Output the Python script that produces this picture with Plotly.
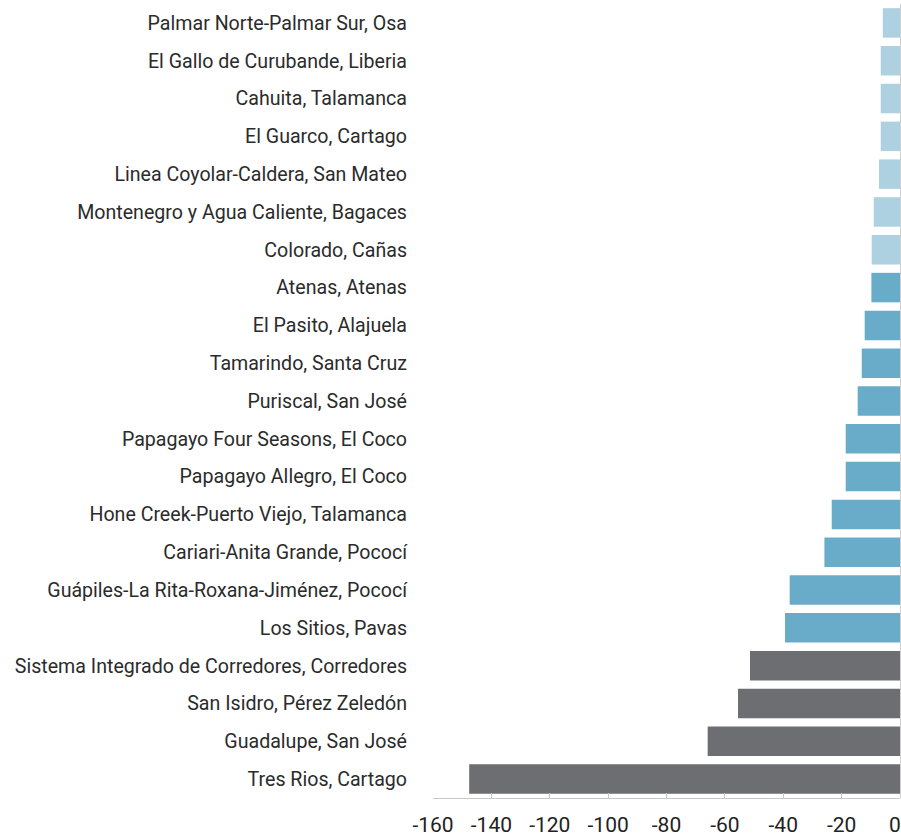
import plotly.graph_objects as go

categories = [
    "Palmar Norte-Palmar Sur, Osa",
    "El Gallo de Curubande, Liberia",
    "Cahuita, Talamanca",
    "El Guarco, Cartago",
    "Linea Coyolar-Caldera, San Mateo",
    "Montenegro y Agua Caliente, Bagaces",
    "Colorado, Cañas",
    "Atenas, Atenas",
    "El Pasito, Alajuela",
    "Tamarindo, Santa Cruz",
    "Puriscal, San José",
    "Papagayo Four Seasons, El Coco",
    "Papagayo Allegro, El Coco",
    "Hone Creek-Puerto Viejo, Talamanca",
    "Cariari-Anita Grande, Pococí",
    "Guápiles-La Rita-Roxana-Jiménez, Pococí",
    "Los Sitios, Pavas",
    "Sistema Integrado de Corredores, Corredores",
    "San Isidro, Pérez Zeledón",
    "Guadalupe, San José",
    "Tres Rios, Cartago",
]
values = [-5.9, -6.6, -6.6, -6.6, -7.2, -9.0, -9.7, -9.8, -12.1, -13.1, -14.5,
          -18.6, -18.6, -23.4, -25.9, -37.8, -39.4, -51.4, -55.5, -65.9, -147.6]
groups = ["low"] * 7 + ["mid"] * 10 + ["high"] * 4
tick_vals = [-160, -140, -120, -100, -80, -60, -40, -20, 0]
tick_text = ["-160", "-140", "-120", "-100", "-80", "-60", "-40", "-20", "0\u00a0\u00a0"]

group_colors = {"low": "#aed1e1", "mid": "#69acc9", "high": "#6d6e71"}

fig = go.Figure(go.Bar(
    x=values,
    y=categories,
    orientation="h",
    marker=dict(color=[group_colors[g] for g in groups], line=dict(width=0)),
    width=0.78,
    hoverinfo="x+y",
))

font_family = "Roboto, Noto Sans, sans-serif"
fig.update_layout(
    width=901, height=838,
    margin=dict(l=433, r=1, t=4, b=40),
    plot_bgcolor="white", paper_bgcolor="white",
    showlegend=False,
    font=dict(family=font_family, color="#2b2b2b"),
    xaxis=dict(
        range=[-160, 0],
        tickvals=tick_vals,
        ticktext=tick_text,
        ticks="inside", ticklen=5, tickcolor="#c8c8c8", tickwidth=1,
        showline=True, linecolor="#c8c8c8", linewidth=1,
        showgrid=False,
        zeroline=True, zerolinecolor="#d0d0d0", zerolinewidth=1,
        tickfont=dict(size=21, color="#222222"),
        ticklabelstandoff=8,
        ticklabeloverflow="allow",
        automargin=False,
        fixedrange=True,
    ),
    yaxis=dict(
        autorange="reversed",
        showgrid=False, showline=False, zeroline=False,
        ticks="", tickfont=dict(size=19.6, color="#2b2b2b"),
        ticklabelstandoff=25,
        automargin=False,
        fixedrange=True,
    ),
)

fig.write_html(
    "out.html",
    config={"displayModeBar": False},
    post_script="document.body.style.margin='0';document.body.style.padding='0';",
)
